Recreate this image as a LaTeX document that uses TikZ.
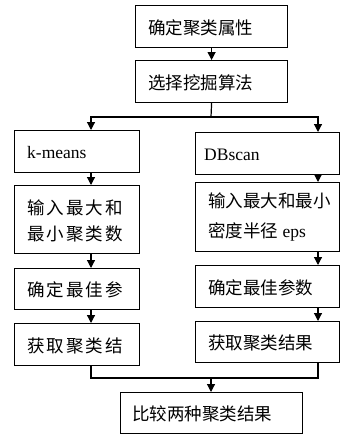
\documentclass[tikz,border=0pt]{standalone}
\usepackage{fontspec}
\setmainfont{Liberation Serif}
\newfontfamily\cjk{Noto Sans CJK SC}
\newfontfamily\cjksp[LetterSpace=12]{Noto Sans CJK SC}
\usetikzlibrary{arrows.meta}
\begin{document}
\begin{tikzpicture}[x=1pt,y=-1pt,
  box/.style={draw, line width=1.2pt, anchor=north west, inner sep=0pt},
  txt/.style={anchor=west, inner sep=0pt, align=left, font=\fontsize{17.5}{26}\selectfont},
  arr/.style={line width=1.2pt, -{Triangle[width=8pt,length=8pt]}},
  ln/.style={line width=1.2pt}]
\useasboundingbox (0,0) rectangle (341,434);
\fill[white] (0,0) rectangle (341,434);
% column coordinates
\coordinate (xL) at (91,0);
\coordinate (xR) at (318,0);
\coordinate (split) at (211,117);
\coordinate (merge) at (211,378);
% boxes
\node[box, minimum width=152pt, minimum height=42pt] (b1) at (135,5) {};
\node[box, minimum width=152pt, minimum height=42pt] (b2) at (135,60) {};
\node[box, minimum width=125pt, minimum height=42pt] (l1) at (14,130) {};
\node[box, minimum width=125pt, minimum height=68pt] (l2) at (14,185) {};
\node[box, minimum width=125pt, minimum height=41pt] (l3) at (14,268) {};
\node[box, minimum width=125pt, minimum height=42pt] (l4) at (14,323) {};
\node[box, minimum width=144pt, minimum height=42pt] (r1) at (195,132) {};
\node[box, minimum width=144pt, minimum height=69pt] (r2) at (195,182) {};
\node[box, minimum width=144pt, minimum height=42pt] (r3) at (195,265) {};
\node[box, minimum width=144pt, minimum height=41pt] (r4) at (195,321) {};
\node[box, minimum width=182pt, minimum height=41pt] (b3) at (120,392) {};
% texts
\node[txt] (tb1) at ([xshift=13pt,yshift=-1.5pt]b1.west) {\cjk 确定聚类属性};
\node[txt] (tb2) at ([xshift=13pt,yshift=-1pt]b2.west) {\cjk 选择挖掘算法};
\node[txt] (tl1) at ([xshift=13pt,yshift=-1pt]l1.west) {k-means};
\node[txt] (tl2) at ([xshift=13pt,yshift=-1pt]l2.west) {\cjksp 输入最大和\\\cjksp 最小聚类数};
\node[txt] (tl3) at ([xshift=13pt,yshift=-1pt]l3.west) {\cjksp 确定最佳参};
\node[txt] (tl4) at ([xshift=13pt,yshift=-1pt]l4.west) {\cjksp 获取聚类结};
\node[txt] (tr1) at ([xshift=9pt,yshift=-1pt]r1.west) {DBscan};
\node[txt, font=\fontsize{17.5}{30}\selectfont] (tr2) at ([xshift=13pt]r2.west) {\cjk 输入最大和最小\\{\cjk 密度半径} eps};
\node[txt] (tr3) at ([xshift=13pt,yshift=-1pt]r3.west) {\cjk 确定最佳参数};
\node[txt] (tr4) at ([xshift=13pt,yshift=-1pt]r4.west) {\cjk 获取聚类结果};
\node[txt] (tb3) at ([xshift=12pt,yshift=-1pt]b3.west) {\cjk 比较两种聚类结果};
% connectors
\draw[arr] (b1.south) -- (b2.north);
\draw[ln] (b2.south) -- (split);
\draw[arr] (split) -| (l1.north -| xL);
\draw[arr] (split) -| (r1.north -| xR);
\draw[arr] (l1.south -| xL) -- (l2.north -| xL);
\draw[arr] (l2.south -| xL) -- (l3.north -| xL);
\draw[arr] (l3.south -| xL) -- (l4.north -| xL);
\draw[arr] (r1.south -| xR) -- (r2.north -| xR);
\draw[arr] (r2.south -| xR) -- (r3.north -| xR);
\draw[arr] (r3.south -| xR) -- (r4.north -| xR);
\draw[ln] (l4.south -| xL) |- (merge);
\draw[ln] (r4.south -| xR) |- (merge);
\draw[arr] (merge) -- (b3.north -| merge);
\end{tikzpicture}
\end{document}
